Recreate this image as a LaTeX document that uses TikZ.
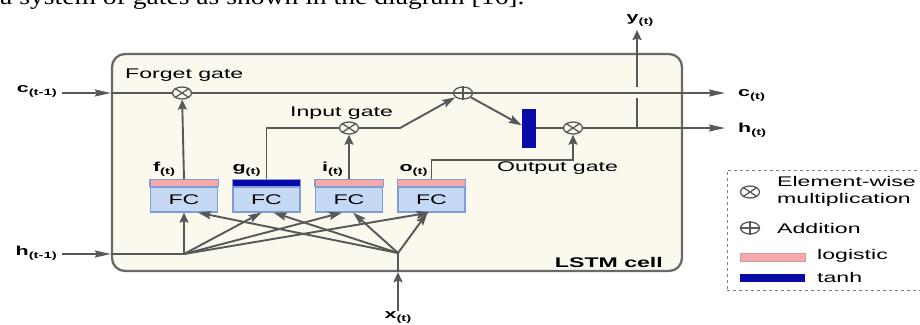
\documentclass[tikz,border=0pt]{standalone}
\usepackage{fontspec}
\setmainfont{Liberation Sans}
\newfontfamily\docserif{Liberation Serif}
\usetikzlibrary{arrows.meta,shapes.geometric,positioning}

\definecolor{cellbg}{HTML}{FBF8EE}
\definecolor{linegray}{HTML}{585858}
\definecolor{fcblue}{HTML}{C6D9F4}
\definecolor{fcedge}{HTML}{7E9ED6}
\definecolor{logpink}{HTML}{F5A9AB}
\definecolor{tanhblue}{HTML}{0A0AA8}

% text in the figure is stretched sideways
\newcommand{\wtext}[1]{\scalebox{1.65}[1]{#1}}
\newcommand{\sublab}[2]{\wtext{\bfseries\fontsize{13}{14}\selectfont #1\raisebox{-3pt}{\fontsize{9}{10}\selectfont #2}}}

\tikzset{
  conn/.style={draw=linegray, line width=1.9pt},
  harrow/.style={conn, -{Stealth[length=16pt,width=7pt,inset=2pt]}},
  varrow/.style={conn, -{Stealth[length=10pt,width=9pt,inset=1.5pt]}},
  darrow/.style={conn, -{Stealth[length=13pt,width=8pt,inset=2pt]}},
  mulop/.style={ellipse, draw=linegray, line width=1.3pt, fill=cellbg, minimum width=19pt, minimum height=12pt, inner sep=0pt},
  fcbox/.style={rectangle, draw=fcedge, fill=fcblue, line width=1.2pt, minimum width=67pt, minimum height=25pt, inner sep=0pt, font=\fontsize{14}{16}\selectfont},
  gatetext/.style={inner sep=0pt, anchor=west, font=\fontsize{14}{17}\selectfont},
  cellbox/.style={draw=linegray!90, fill=cellbg, line width=2.3pt, rounded corners=13pt, minimum width=570pt, minimum height=217pt},
  legendbox/.style={draw=gray, dashed, line width=1pt, minimum width=203pt, minimum height=120pt},
}

\begin{document}
\begin{tikzpicture}[x=1pt,y=-1pt]
\useasboundingbox (0,0) rectangle (920,324);
\clip (0,0) rectangle (920,324);

% line of text above the figure
\node[anchor=base west, inner sep=0pt] (caption) at (0,5) {\scalebox{1.2}[1]{\docserif\fontsize{23}{26}\selectfont a system of gates as shown in the diagram [16].}};

% cell
\node[cellbox] (cell) at (397,162.5) {};
\node[gatetext, anchor=east, font=\bfseries\fontsize{14}{17}\selectfont] (celltag) at (663,262) {\wtext{LSTM cell}};

% gates
\node[mulop] (fgate) at (182,93) {};
\node[mulop] (addop) at (463,93) {};
\node[mulop] (igate) at (349,128) {};
\node[mulop] (ogate) at (573,128) {};
\node[fill=tanhblue, minimum width=14pt, minimum height=39pt, inner sep=0pt] (tanhbar) at (529,128) {};

\node[gatetext] (forgettext) at (125,75) {\wtext{Forget gate}};
\node[gatetext] (inputtext) at (290,113) {\wtext{Input gate}};
\node[gatetext] (outputtext) at (497,168) {\wtext{Output gate}};

% FC layers
\node[fcbox] (ffc) at (184,199.5) {\wtext{FC}};
\node[fcbox] (gfc) at (266.5,199.5) {\wtext{FC}};
\node[fcbox] (ifc) at (349,199.5) {\wtext{FC}};
\node[fcbox] (ofc) at (431.5,199.5) {\wtext{FC}};
\foreach \fc/\col/\v/\dx in {ffc/logpink/f/3, gfc/tanhblue/g/0, ifc/logpink/i/7, ofc/logpink/o/2} {
    \draw[draw=fcedge, fill=\col, line width=1.2pt] (\fc.north west) rectangle ([yshift=7pt]\fc.north east);
    \coordinate (\v top) at ([yshift=7pt]\fc.north);
    \node[anchor=base west, inner sep=0pt] (\v lab) at ([xshift=\dx pt,yshift=15pt]\fc.north west) {\sublab{\v}{(t)}};
}

% inputs and outputs
\node[anchor=east, inner sep=0pt] (cprev) at (57,91) {\sublab{c}{(t-1)}};
\node[anchor=east, inner sep=0pt] (hprev) at (57,253) {\sublab{h}{(t-1)}};
\node[inner sep=0pt] (xin) at (398,317) {\sublab{x}{(t)}};
\node[inner sep=0pt] (yout) at (640,20) {\sublab{y}{(t)}};
\node[anchor=west, inner sep=0pt] (cnext) at (738,95) {\sublab{c}{(t)}};
\node[anchor=west, inner sep=0pt] (hnext) at (738,130) {\sublab{h}{(t)}};

\coordinate (cend) at (725,93);
\coordinate (hend) at (725,128);
\coordinate (yjoin) at (637,128);
\coordinate (yend) at (637,30);
\coordinate (hjoin) at (184,254);
\coordinate (xjoin) at (398,253);
\coordinate (ibend) at (400,128);
\coordinate (obend) at (573,160);

% output y, broken where it passes the cell state
\draw[varrow] (yjoin) -- (yend);
\fill[cellbg] (632,87) rectangle (642,98);

% cell state
\draw[harrow] (cprev.east |- fgate) ++(5,0) -- (cell.west |- fgate);
\draw[conn] (cell.west |- fgate) -- (fgate);
\draw[conn] (fgate) -- (addop);
\draw[harrow] (addop) -- (cend);

% gate paths
\draw[varrow] (ftop) -- (fgate);
\draw[conn] (gtop) |- (igate);
\draw[varrow] (itop) -- (igate);
\draw[darrow] (igate) -- (ibend) -- (addop);
\draw[darrow] (addop) -- (tanhbar.160);
\draw[conn] (tanhbar) -- (ogate);
\draw[varrow] (otop) |- (obend) -- (ogate);
\draw[harrow] (ogate) -- (hend);

\foreach \op in {fgate,igate,ogate}
    \draw[linegray, line width=1.3pt] (\op.33) -- (\op.213) (\op.147) -- (\op.-33);
\draw[linegray, line width=1.3pt] (addop.north) -- (addop.south) (addop.west) -- (addop.east);

% h(t-1) and x(t) into the FC layers
\draw[harrow] (hprev.east |- hjoin) ++(5,0) -- (cell.west |- hjoin);
\draw[conn] (cell.west |- hjoin) -- (hjoin);
\draw[varrow] (hjoin) -- (ffc.south);
\foreach \fc/\dx in {gfc/-5, ifc/-7, ofc/-2}
    \draw[darrow] (hjoin) -- ([xshift=\dx pt]\fc.south);
\draw[varrow] (xin.north) -- (xin.north |- cell.south);
\draw[conn] (xin.north |- cell.south) -- (xjoin);
\foreach \fc/\dx in {ffc/14, gfc/7, ifc/4, ofc/-4}
    \draw[darrow] (xjoin) -- ([xshift=\dx pt]\fc.south);

% legend
\node[legendbox] (legend) at (828.5,230) {};
\node[mulop, fill=none] (lgmul) at (750,192) {};
\node[mulop, fill=none] (lgadd) at (750,228) {};
\draw[linegray, line width=1.3pt] (lgmul.33) -- (lgmul.213) (lgmul.147) -- (lgmul.-33);
\draw[linegray, line width=1.3pt] (lgadd.north) -- (lgadd.south) (lgadd.west) -- (lgadd.east);
\node[gatetext, align=left] (lgmultext) at (777,191) {\wtext{Element-wise}\\\wtext{multiplication}};
\node[gatetext] (lgaddtext) at (777,228) {\wtext{Addition}};
\node[fill=logpink, draw=logpink!70!gray, minimum width=65pt, minimum height=8pt, inner sep=0pt] (lglog) at (772.5,257) {};
\node[gatetext] (lglogtext) at (817,256) {\wtext{logistic}};
\node[fill=tanhblue, minimum width=65pt, minimum height=8pt, inner sep=0pt] (lgtanh) at (772.5,278) {};
\node[gatetext] (lgtanhtext) at (817,277) {\wtext{tanh}};
\end{tikzpicture}
\end{document}
